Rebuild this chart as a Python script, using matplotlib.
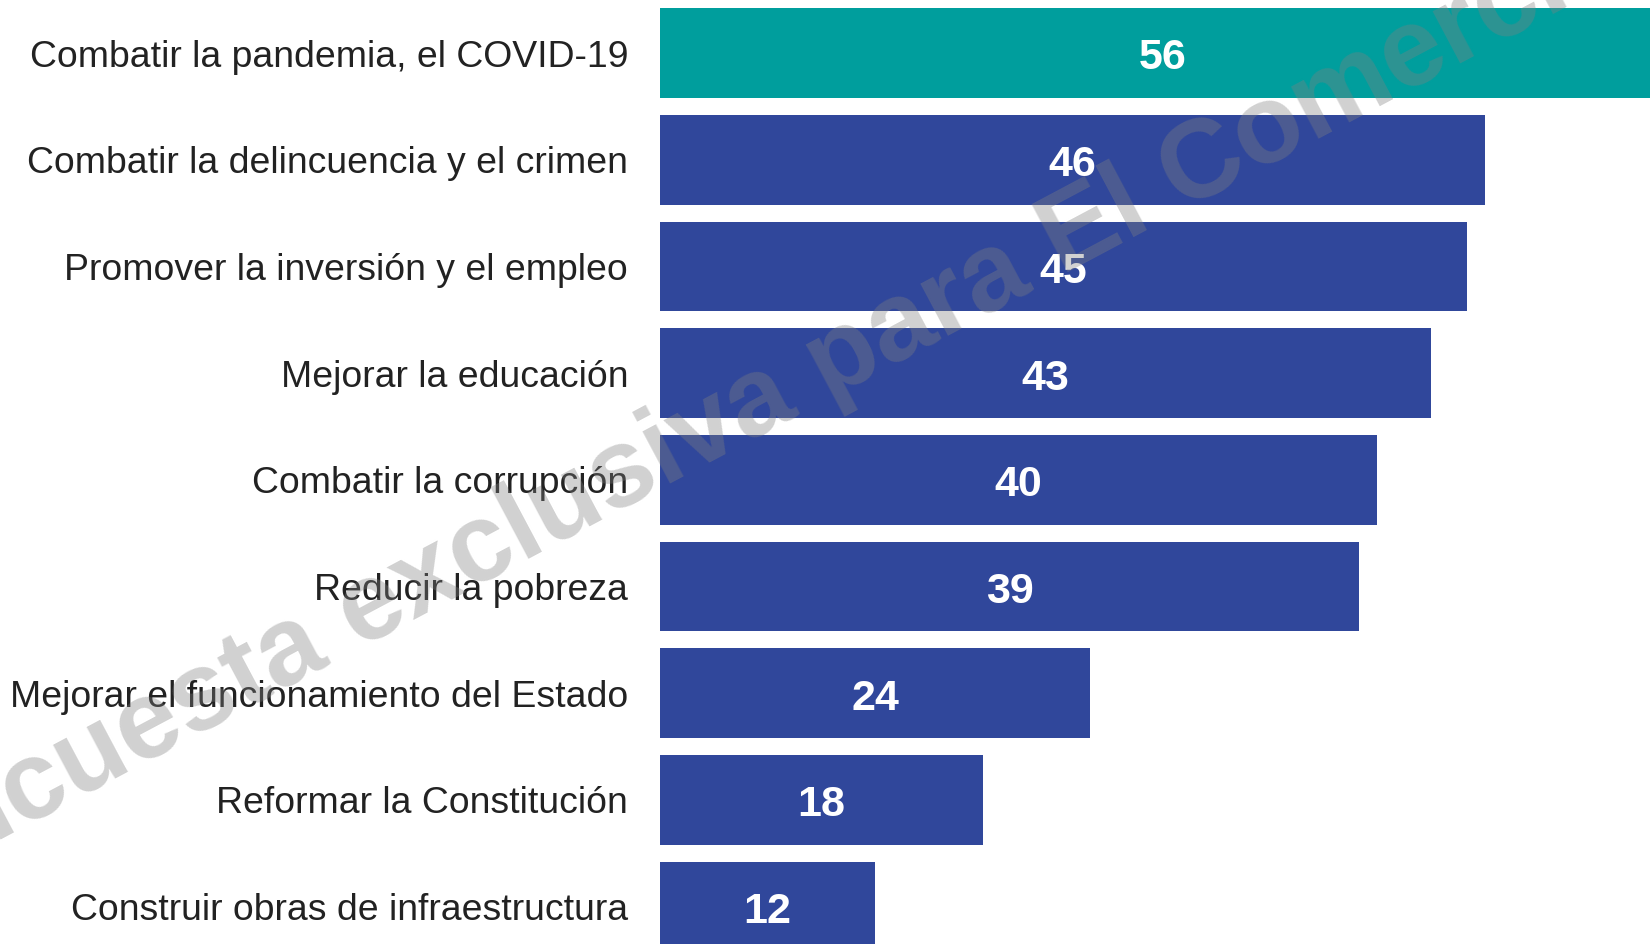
import matplotlib
matplotlib.use('Agg')
import matplotlib.pyplot as plt

# ==================== DATA ====================
categorias = [
    "Combatir la pandemia, el COVID-19",
    "Combatir la delincuencia y el crimen",
    "Promover la inversión y el empleo",
    "Mejorar la educación",
    "Combatir la corrupción",
    "Reducir la pobreza",
    "Mejorar el funcionamiento del Estado",
    "Reformar la Constitución",
    "Construir obras de infraestructura",
]
valores = [56, 46, 45, 43, 40, 39, 24, 18, 12]
colores = ["#009E9D"] + ["#30479B"] * (len(valores) - 1)

marca_agua = "Encuesta exclusiva para El Comercio"

plt.rcParams['font.family'] = ['Liberation Sans', 'DejaVu Sans']

# ==================== PLOT ====================
fig = plt.figure(figsize=(16.5, 9.44), dpi=100)
ax = fig.add_axes([0.4, 0.0, 0.6, 1.0])

y = list(range(len(valores)))
ax.barh(y, valores, height=0.84, color=colores, zorder=2)

for yi, v in zip(y, valores):
    ax.text(v / 2, yi + 0.05, str(v), ha='center', va='center', color='white',
            fontsize=31, fontweight='bold', zorder=3)

ax.set_xlim(0, 55.2)
ax.set_ylim(8.35, -0.498)
ax.set_yticks(y)
ax.set_yticklabels(categorias, fontsize=26.9, color='#222222')
ax.tick_params(axis='y', length=0, pad=23)
ax.set_xticks([])
for s in ax.spines.values():
    s.set_visible(False)

# watermark over everything
fig.text(0.455, 0.568, marca_agua, rotation=28, rotation_mode='anchor',
         ha='center', va='center', fontsize=80, fontweight='bold',
         color='#808080', alpha=0.36, zorder=10)

fig.savefig('out.png', dpi=100)
